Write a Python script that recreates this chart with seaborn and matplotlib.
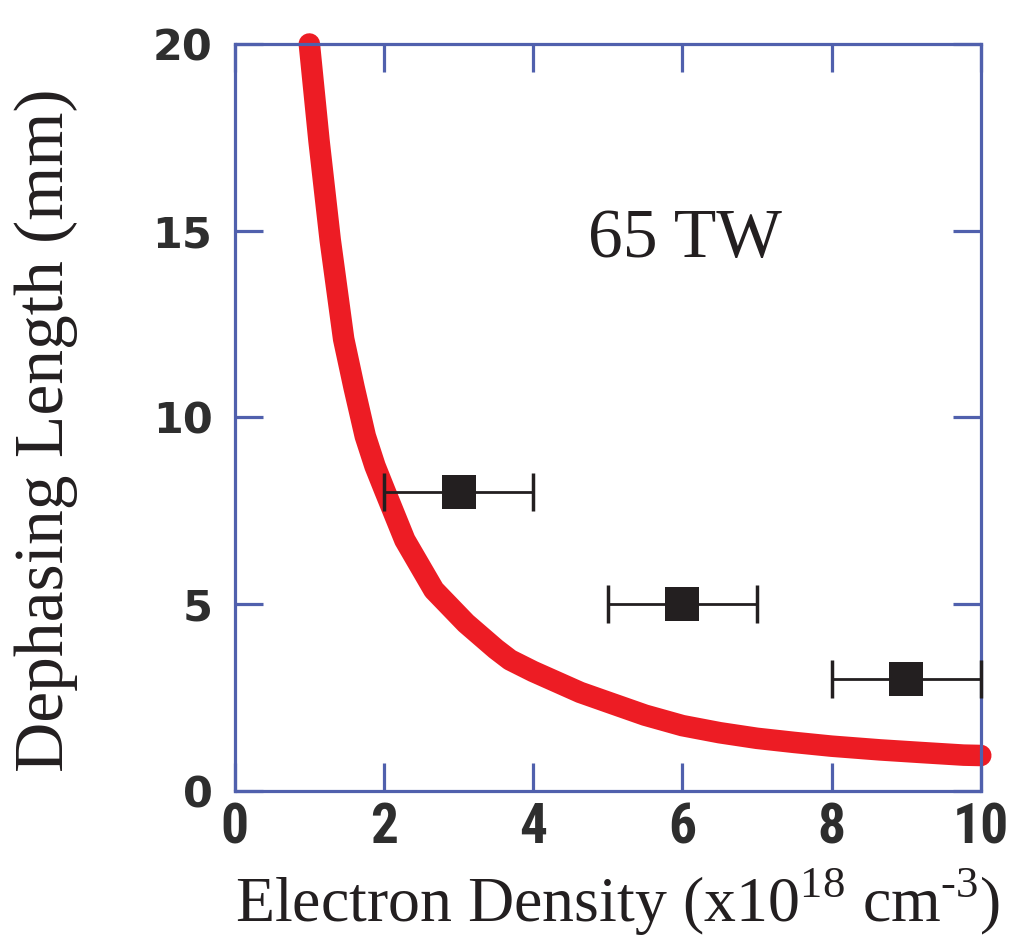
import matplotlib
matplotlib.use("Agg")
import matplotlib.pyplot as plt
import seaborn as sns

# curve (electron density vs dephasing length)
density = [1.0, 1.13, 1.28, 1.46, 1.6, 1.75, 1.88, 2.01, 2.28, 2.67, 3.1, 3.5,
           3.69, 4.0, 4.36, 4.63, 5.0, 5.5, 6.0, 6.5, 7.0, 7.5, 8.0, 8.65,
           9.2, 9.77, 10.0]
dephasing = [20.0, 17.4, 14.75, 12.1, 10.8, 9.5, 8.7, 8.05, 6.72, 5.38, 4.49,
             3.8, 3.51, 3.2, 2.88, 2.64, 2.38, 2.03, 1.75, 1.56, 1.41, 1.3,
             1.2, 1.1, 1.03, 0.96, 0.95]

# measured points with horizontal error bars
meas_density = [3, 6, 9]
meas_length = [8, 5, 3]
meas_xerr = [1, 1, 1]

x_ticks = [0, 2, 4, 6, 8, 10]
y_ticks = [0, 5, 10, 15, 20]

sns.set_theme(style="white")
plt.rcParams["font.family"] = ["Liberation Serif", "DejaVu Serif"]
plt.rcParams["mathtext.fontset"] = "custom"
plt.rcParams["mathtext.rm"] = "Liberation Serif"

blue = "#5060ad"
red = "#ed1c24"
dark = "#231f20"

fig = plt.figure(figsize=(10.35, 9.44), dpi=100)
ax = fig.add_axes([0.2268, 0.1621, 0.7208, 0.7913])

sns.lineplot(x=density, y=dephasing, color=red, linewidth=15.5, sort=False,
             ax=ax, solid_capstyle="round", solid_joinstyle="round",
             clip_on=False, zorder=2)

ax.errorbar(meas_density, meas_length, xerr=meas_xerr, fmt="none",
            ecolor=dark, elinewidth=2, capsize=14, capthick=2.5,
            clip_on=False, zorder=3)
sns.scatterplot(x=meas_density, y=meas_length, marker="s", s=24 ** 2,
                color=dark, linewidth=0, ax=ax, zorder=4, clip_on=False)

ax.text(6.04, 14.3, "65 TW", fontsize=50, ha="center", va="baseline",
        color=dark)

ax.set_xlim(0, 10)
ax.set_ylim(0, 20)
ax.set_xticks(x_ticks)
ax.set_yticks(y_ticks)

for sp in ax.spines.values():
    sp.set_visible(True)
    sp.set_color(blue)
    sp.set_linewidth(2.3)

ax.tick_params(axis="both", which="major", direction="in", length=20,
               width=2.3, color=blue, top=True, right=True,
               left=True, bottom=True)
ax.tick_params(axis="x", pad=8)
ax.tick_params(axis="y", pad=16)

for lab in ax.get_xticklabels():
    lab.set_family(["Roboto Condensed", "DejaVu Sans"])
    lab.set_weight("bold")
    lab.set_fontsize(40)
    lab.set_color("#2e2e2e")
for lab in ax.get_yticklabels():
    lab.set_family(["DejaVu Sans"])
    lab.set_weight("bold")
    lab.set_fontsize(31)
    lab.set_color("#2e2e2e")

ax.set_xlabel(r"Electron Density (x10$^{18}$ cm$^{\text{-3}}$)",
              fontsize=46, color=dark)
ax.set_ylabel("Dephasing Length (mm)", fontsize=50, color=dark)
ax.xaxis.set_label_coords(0.5125, -0.1)
ax.yaxis.set_label_coords(-0.21, 0.483)

fig.savefig("out.png", dpi=100)
